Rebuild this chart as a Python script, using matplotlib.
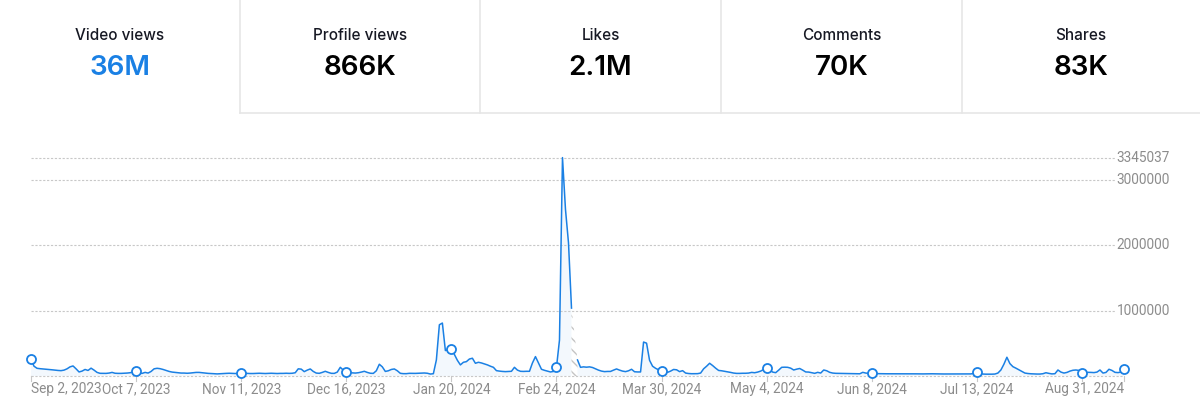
import matplotlib.pyplot as plt
import numpy as np
import datetime as dt

# Summary tabs
tab_titles = ["Video views", "Profile views", "Likes", "Comments", "Shares"]
tab_values = ["36M", "866K", "2.1M", "70K", "83K"]

# Daily video views (thousands), Sep 2, 2023 .. Aug 31, 2024; None = missing day
start_date = dt.date(2023, 9, 2)
views_k = [
    257, 150, 118, 112, 108, 105, 100,
    95, 90, 85, 82, 90, 110, 140,
    154, 110, 62, 75, 100, 85, 120,
    90, 55, 41, 40, 40, 45, 55,
    42, 40, 40, 42, 45, 50, 60,
    72, 45, 40, 55, 45, 70, 110,
    118, 112, 100, 85, 70, 60, 55,
    50, 45, 45, 42, 45, 50, 55,
    55, 50, 45, 40, 38, 35, 32,
    35, 38, 40, 42, 40, 38, 40,
    41, 45, 40, 38, 38, 40, 42,
    40, 38, 40, 42, 40, 38, 40,
    40, 42, 40, 42, 50, 110, 105,
    67, 90, 108, 70, 45, 41, 55,
    72, 55, 41, 40, 60, 133, 90,
    62, 55, 48, 45, 50, 60, 72,
    55, 42, 40, 80, 180, 140, 70,
    80, 100, 108, 80, 41, 36, 36,
    41, 40, 40, 42, 45, 46, 42,
    30, 35, 246, 785, 811, 390, 400,
    410, 330, 240, 170, 210, 220, 260,
    272, 195, 210, 200, 185, 170, 150,
    133, 82, 75, 70, 67, 70, 72,
    133, 90, 72, 70, 72, 72, 200,
    297, 200, 103, 87, 75, 62, 70,
    133, 550, 3345.037, 2550, 2040, 1040, None,
    246, 133, 140, 135, 140, 130, 110,
    90, 75, 67, 70, 70, 90, 108,
    90, 75, 67, 80, 103, 65, 62,
    62, 520, 503, 240, 150, 118, 95,
    82, 60, 56, 75, 100, 95, 67,
    82, 45, 38, 35, 35, 36, 45,
    110, 150, 195, 160, 120, 85, 80,
    72, 65, 55, 45, 40, 40, 42,
    42, 45, 55, 50, 60, 75, 100,
    128, 90, 60, 51, 90, 133, 135,
    133, 120, 92, 105, 115, 90, 62,
    60, 50, 41, 56, 45, 92, 80,
    56, 45, 41, 40, 38, 38, 36,
    36, 35, 35, 34, 56, 45, 40,
    41, 38, 36, 35, 35, 34, 34,
    34, 33, 33, 34, 35, 35, 34,
    33, 33, 32, 32, 33, 34, 34,
    33, 32, 32, 31, 31, 32, 32,
    32, 31, 31, 30, 30, 32, 40,
    56, 40, 30, 28, 28, 28, 30,
    45, 92, 180, 287, 190, 143, 120,
    95, 70, 45, 38, 34, 32, 30,
    30, 35, 50, 40, 32, 35, 92,
    60, 45, 55, 75, 88, 92, 85,
    41, 50, 56, 55, 52, 60, 92,
    45, 55, 103, 85, 56, 52, 60,
    113,
]
y_ticks = [1000000, 2000000, 3000000]
tick_step = 35  # days between x ticks

BLUE = "#1a80e4"
GRAY = "#8c8c8c"
GRID = "#c8c8c8"
BORDER = "#e6e6e6"

plt.rcParams['font.family'] = ['Inter', 'DejaVu Sans']

vals = np.array([np.nan if v is None else v * 1000 for v in views_k])
days = np.arange(len(vals))
ymax = np.nanmax(vals)

fig = plt.figure(figsize=(12, 4.19), dpi=100)
W, H = 1200, 419

# --- top tabs ---
top = fig.add_axes([0, 0, 1, 1])
top.set_xlim(0, W)
top.set_ylim(H, 0)
top.axis('off')
edges = [0, 240, 480, 721, 962, 1200]
for i in range(1, 5):
    top.plot([edges[i], edges[i]], [0, 113], color=BORDER, lw=1.2)
top.plot([240, 1200], [113, 113], color=BORDER, lw=1.2)
for i, (t, v) in enumerate(zip(tab_titles, tab_values)):
    cx = (edges[i] + edges[i + 1]) / 2
    top.text(cx, 35, t, ha='center', va='center', fontsize=11, fontweight='medium', color='#161823')
    top.text(cx, 68, v, ha='center', va='center', fontsize=20, fontweight='semibold',
             color=BLUE if i == 0 else '#000000')

# --- chart ---
ax = fig.add_axes([31 / W, (H - 376) / H, 1093 / W, (376 - 157.6) / H])
ax.set_xlim(0, len(vals) - 1)
ax.set_ylim(0, ymax)
for s in ax.spines.values():
    s.set_visible(False)
ax.set_xticks([])
ax.set_yticks([])
ax.patch.set_alpha(0)

tick_font = dict(family=['Roboto', 'DejaVu Sans'], fontsize=9.8, color=GRAY)

grid_end = (1115 - 31) / 1093
ytr = ax.get_yaxis_transform()
for yv in y_ticks + [ymax]:
    ax.plot([0, grid_end], [yv, yv], transform=ytr, color=GRID, lw=0.8,
            ls=(0, (2, 1.5)), clip_on=False)
    ax.text(1.042, yv, str(int(round(yv))), transform=ytr, ha='right', va='center', **tick_font)
ax.plot([0, 1], [0, 0], transform=ytr, color=GRID, lw=0.8, ls=(0, (2, 1.5)), clip_on=False)

ax.fill_between(days, vals, 0, color=BLUE, alpha=0.05, lw=0)
ax.plot(days, vals, color=BLUE, lw=1.1, clip_on=False, solid_joinstyle='round')

# missing-day gap drawn hatched
for i in np.where(np.isnan(vals))[0]:
    a, b = i - 1, i + 1
    ax.fill_between([a, b], [vals[a], vals[b]], 0, facecolor='none', edgecolor='#c4c4c4',
                    hatch='\\\\\\', lw=0)

# x ticks, markers, labels
tick_days = list(range(0, len(vals) - 1, tick_step)) + [len(vals) - 1]
xtr = ax.get_xaxis_transform()
for k, d in enumerate(tick_days):
    ax.plot([d, d], [0, -0.025], transform=xtr, color=GRID, lw=0.8, clip_on=False)
    ax.plot(d, vals[d], 'o', ms=6.5, mfc='white', mec=BLUE, mew=1.3, clip_on=False, zorder=5)
    if k == 0:
        ha = 'left'
    elif k == len(tick_days) - 1:
        ha = 'right'
    elif tick_days[-1] - d < tick_step:
        continue  # label would collide with the last one
    else:
        ha = 'center'
    label = (start_date + dt.timedelta(days=int(d))).strftime('%b %-d, %Y')
    ax.text(d, -0.06, label, transform=xtr, ha=ha, va='center', **tick_font)

fig.savefig('out.png', dpi=100)
